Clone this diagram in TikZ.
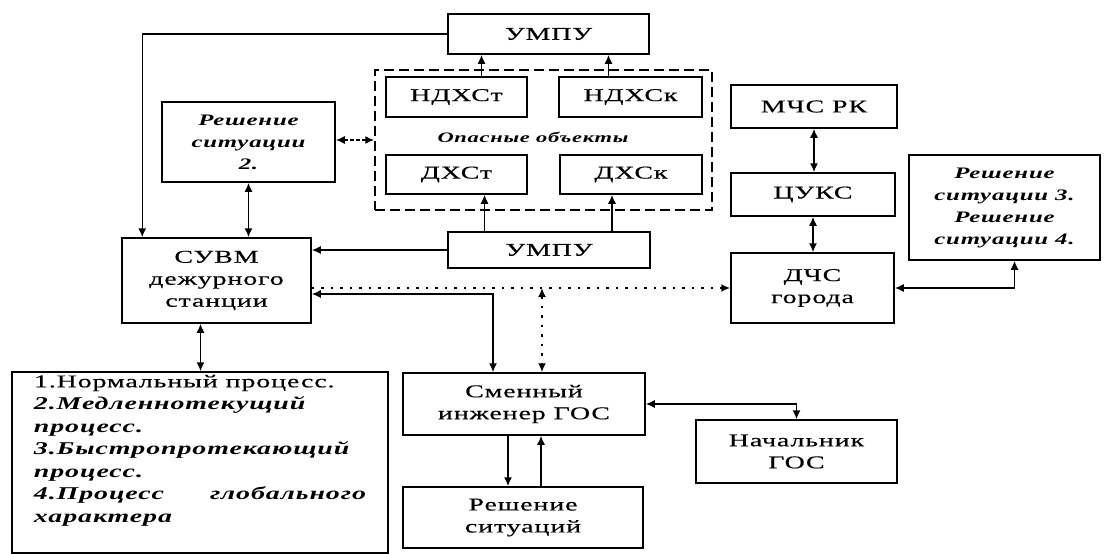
\documentclass[tikz,border=0pt]{standalone}
\usepackage{fontspec}
\setmainfont{Liberation Serif}[FakeStretch=1.55,LetterSpace=5,UprightFeatures={FakeBold=0.4},ItalicFeatures={FakeBold=0.4}]
\usetikzlibrary{arrows.meta,positioning}

\begin{document}
\begin{tikzpicture}[x=1pt,y=-1pt,line width=1.5pt,
  >={Latex[length=9pt,width=8pt]},
  blk/.style={draw,line width=1.5pt,inner sep=2pt,align=center,
    font=\fontsize{18}{22}\selectfont},
  solbox/.style={blk,font=\fontsize{16}{22}\selectfont\bfseries\itshape},
  dotpat/.style={line width=1.8pt,dash pattern=on 2.5pt off 7pt}]
  \useasboundingbox[fill=white] (0,0) rectangle (1104,554);

  % top block: UMPU and dangerous objects
  \node[blk,minimum width=201,minimum height=40] (umpuT) at (548.5,34) {УМПУ};
  \node[draw,line width=1.5pt,dash pattern=on 10pt off 5pt,
    minimum width=337,minimum height=140] (danger) at (543.5,140) {};
  \node[blk,minimum width=141,minimum height=40] (ndxst) at (456.5,97) {НДХСт};
  \node[blk,minimum width=143,minimum height=40] (ndxsk) at (630.5,97) {НДХСк};
  \node[font=\fontsize{14.5}{17}\selectfont\bfseries\itshape] (opas) at (533,137) {Опасные объекты};
  \node[blk,minimum width=141,minimum height=39] (dxst) at (456.5,174.5) {ДХСт};
  \node[blk,minimum width=142,minimum height=39] (dxsk) at (631,174.5) {ДХСк};
  \node[blk,minimum width=202,minimum height=36] (umpuB) at (549,250) {УМПУ};

  % left column
  \node[solbox,minimum width=173,minimum height=80] (resh2) at (248.5,142) {Решение\\ситуации\\2.};
  \node[blk,minimum width=189,minimum height=85] (suvm) at (216.5,280.5) {СУВМ\\дежурного\\станции};
  \node[draw,line width=1.5pt,inner sep=0pt,minimum width=376,minimum height=181] (list) at (200,462.5)
    {\parbox[c][175pt][t]{332pt}{\fontsize{18}{22.5}\selectfont
      1.Нормальный процесс.\\
      \bfseries\itshape 2.Медленнотекущий\\
      процесс.\\
      3.Быстропротекающий\\
      процесс.\\
      4.Процесс\hfill глобального\\
      характера}};

  % middle bottom
  \node[blk,minimum width=242,minimum height=62] (smen) at (524,404) {Сменный\\инженер ГОС};
  \node[blk,minimum width=240,minimum height=61] (reshs) at (523,517.5) {Решение\\ситуаций};
  \node[blk,minimum width=201,minimum height=63] (nach) at (796.5,451.5) {Начальник\\ГОС};

  % right column
  \node[blk,minimum width=166,minimum height=43] (mchs) at (814,106.5) {МЧС РК};
  \node[blk,minimum width=164,minimum height=43] (tsuks) at (813,194.5) {ЦУКС};
  \node[blk,minimum width=163,minimum height=70] (dchs) at (812.5,288) {ДЧС\\города};
  \node[solbox,minimum width=191,minimum height=105] (resh34) at (1004.5,207.5)
    {Решение\\ситуации 3.\\Решение\\ситуации 4.};

  % connections
  \draw[->] (umpuT.west) -| ([xshift=21pt]suvm.north west);
  \draw[->] ([xshift=25pt]ndxst.north) -- ([xshift=25pt]ndxst.north |- umpuT.south);
  \draw[->] ([xshift=-22pt]ndxsk.north) -- ([xshift=-22pt]ndxsk.north |- umpuT.south);
  \draw[->] ([xshift=28pt]dxst.south |- umpuB.north) -- ([xshift=28pt]dxst.south);
  \draw[->] ([xshift=-19pt]dxsk.south |- umpuB.north) -- ([xshift=-19pt]dxsk.south);
  \draw[->] (umpuB.west) -- (umpuB.west -| suvm.east);
  \draw[<->,dash pattern=on 4pt off 2pt] (resh2.east |- danger.west) -- (danger.west);
  \draw[<->] (resh2.south) -- (resh2.south |- suvm.north);
  \draw[->,dotpat] (suvm.east |- dchs.west) -- (dchs.west);
  \draw[<->,dotpat] ([xshift=18pt]smen.north |- dchs.west) -- ([xshift=18pt]smen.north);
  \draw[<->] ([yshift=-13.5pt]suvm.east) -| ([xshift=-31pt]smen.north);
  \draw[<->] ([xshift=-16pt]suvm.south) -- ([xshift=-16pt]suvm.south |- list.north);
  \draw[->] ([xshift=-16pt]smen.south) -- ([xshift=-16pt]smen.south |- reshs.north);
  \draw[->] ([xshift=18pt]reshs.north) -- ([xshift=18pt]reshs.north |- smen.south);
  \draw[<->] (smen.east) -| (nach.north);
  \draw[<->] (mchs.south) -- (mchs.south |- tsuks.north);
  \draw[<->] (tsuks.south) -- (tsuks.south |- dchs.north);
  \draw[<->] (dchs.east) -| ([xshift=10pt]resh34.south);
\end{tikzpicture}
\end{document}
